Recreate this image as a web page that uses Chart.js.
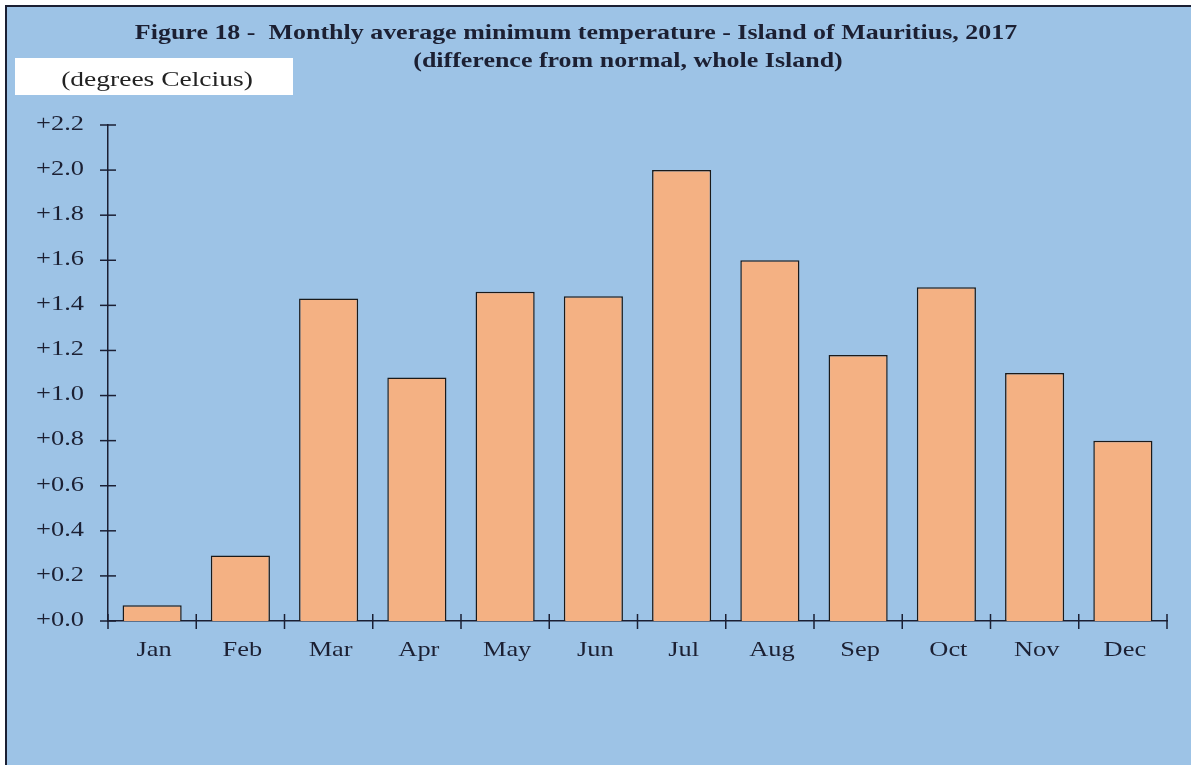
<!DOCTYPE html>
<html><head><meta charset="utf-8">
<script src="https://cdn.jsdelivr.net/npm/chart.js@4/dist/chart.umd.min.js"></script>
<style>
html,body{margin:0;padding:0;background:#fff;width:1191px;height:765px;overflow:hidden}
#frame{position:absolute;left:5px;top:5px;width:1186px;height:760px;background:#9dc3e6;border-top:2px solid #1b1f33;border-left:2px solid #1b1f33;box-sizing:border-box}
canvas{position:absolute;left:0;top:0}
</style></head>
<body><div id="frame"><canvas id="c" width="1184" height="758" style="width:1184px;height:758px"></canvas></div>
<script>
const categories = ['Jan','Feb','Mar','Apr','May','Jun','Jul','Aug','Sep','Oct','Nov','Dec'];
const anomalies = [0.07, 0.29, 1.43, 1.08, 1.46, 1.44, 2.00, 1.60, 1.18, 1.48, 1.10, 0.80];
const titleLine1 = 'Figure 18 -  Monthly average minimum temperature - Island of Mauritius, 2017';
const titleLine2 = '(difference from normal, whole Island)';
const unitLabel = '(degrees Celcius)';
const yMin = 0, yMax = 2.2, yStep = 0.2;

const AXIS = '#1b1f33';
const TEXT = '#1c2033';
const SERIF = '"Liberation Serif", "Times New Roman", serif';

// draw text with a horizontal stretch (reference glyphs are wide)
function stretchText(ctx, text, x, y, align, sx) {
  ctx.save();
  ctx.translate(x, y);
  ctx.scale(sx, 1);
  ctx.textAlign = align;
  ctx.textBaseline = 'middle';
  ctx.fillText(text, 0, 0);
  ctx.restore();
}

const decor = {
  id: 'decor',
  afterDraw(chart) {
    const ctx = chart.ctx;
    const xs = chart.scales.x, ys = chart.scales.y;
    const ca = chart.chartArea;
    ctx.save();
    // crossing ticks on y axis
    ctx.strokeStyle = AXIS; ctx.lineWidth = 1.5;
    ys.ticks.forEach((t, i) => {
      const y = ys.getPixelForTick(i);
      ctx.beginPath(); ctx.moveTo(ca.left - 8, y); ctx.lineTo(ca.left + 8, y); ctx.stroke();
    });
    // crossing ticks on x axis at category boundaries
    const n = categories.length;
    for (let i = 0; i <= n; i++) {
      let x;
      if (i === 0) x = ca.left;
      else if (i === n) x = ca.right;
      else x = (xs.getPixelForTick(i - 1) + xs.getPixelForTick(i)) / 2;
      ctx.beginPath(); ctx.moveTo(x, ca.bottom - 7); ctx.lineTo(x, ca.bottom + 8); ctx.stroke();
    }
    // tick labels (stretched)
    ctx.fillStyle = TEXT;
    ctx.font = '22px ' + SERIF;
    ys.ticks.forEach((t, i) => {
      stretchText(ctx, '+' + Number(t.value).toFixed(1), ca.left - 24, ys.getPixelForTick(i) - 1, 'right', 1.2);
    });
    categories.forEach((c, i) => {
      stretchText(ctx, c, xs.getPixelForTick(i) + 2, ca.bottom + 29, 'center', 1.2);
    });
    // titles
    ctx.font = 'bold 22px ' + SERIF;
    stretchText(ctx, titleLine1, 569, 26, 'center', 1.18);
    stretchText(ctx, titleLine2, 621, 54, 'center', 1.18);
    // unit box
    ctx.fillStyle = '#ffffff';
    ctx.fillRect(8, 51, 278, 37);
    ctx.fillStyle = '#222';
    ctx.font = '22px ' + SERIF;
    stretchText(ctx, unitLabel, 150, 73, 'center', 1.25);
    ctx.restore();
  }
};

new Chart(document.getElementById('c'), {
  type: 'bar',
  data: {
    labels: categories,
    datasets: [{
      data: anomalies,
      backgroundColor: '#f4b183',
      borderColor: '#1a1a1a',
      borderWidth: 1.5,
      borderSkipped: 'bottom',
      categoryPercentage: 1.0,
      barPercentage: 0.67
    }]
  },
  options: {
    responsive: false,
    animation: false,
    layout: { padding: { left: 0, top: 118, right: 24, bottom: 0 } },
    plugins: { legend: { display: false }, title: { display: false }, tooltip: { enabled: false } },
    scales: {
      x: {
        grid: { display: false, drawTicks: false },
        border: { display: true, color: AXIS, width: 1.5 },
        ticks: { color: 'rgba(0,0,0,0)', font: { family: SERIF, size: 21 }, padding: 16, maxRotation: 0 },
        afterFit(s) { s.height = 144; }
      },
      y: {
        min: yMin, max: yMax,
        grid: { display: false, drawTicks: false },
        border: { display: true, color: AXIS, width: 1.5 },
        ticks: {
          stepSize: yStep,
          color: 'rgba(0,0,0,0)',
          font: { family: SERIF, size: 21 },
          padding: 22,
          callback: v => '+' + Number(v).toFixed(1)
        },
        afterFit(s) { s.width = 101; }
      }
    }
  },
  plugins: [decor]
});
</script>
</body></html>
